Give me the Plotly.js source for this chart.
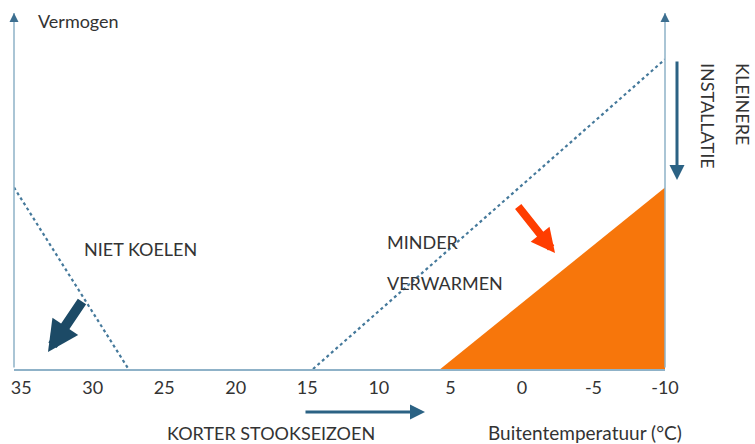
<!DOCTYPE html>
<html>
<head>
<meta charset="utf-8">
<script src="https://cdn.plot.ly/plotly-3.0.1.min.js"></script>
<style>html,body{margin:0;padding:0;background:#fff;}#chart{width:755px;height:444px;}</style>
</head>
<body>
<div id="chart"></div>
<script>
// Tick labels (outdoor temperature, °C)
const tickValues = [35, 30, 25, 20, 15, 10, 5, 0, -5, -10];
// Cooling line "NIET KOELEN"
const coolX = [35.5, 27.5];
const coolY = [51, 0];
// Heating line "MINDER VERWARMEN"
const heatX = [14.6, -10];
const heatY = [0, 87];
// Orange area (smaller installation)
const areaX = [5.7, -10, -10, 5.7];
const areaY = [0, 51, 0, 0];

const L = 14, R = 665, T = 13, B = 369;
const W = R - L, H = B - T;
const px = x => (x - L) / W;
const py = y => (B - y) / H;

const font = 'Lato, "Open Sans", sans-serif';

function arrow(tipX, tipY, tailX, tailY, color, width, size, head) {
  return {xref: 'paper', yref: 'paper', x: px(tipX), y: py(tipY),
    ax: tailX - tipX, ay: tailY - tipY, text: '', showarrow: true,
    arrowhead: head === undefined ? 2 : head, arrowsize: size, arrowwidth: width, arrowcolor: color};
}
function label(text, x, y, size, opts) {
  return Object.assign({xref: 'paper', yref: 'paper', x: px(x), y: py(y), text: text,
    showarrow: false, xanchor: 'center', yanchor: 'middle',
    font: {family: font, size: size, color: '#333'}}, opts || {});
}

const traces = [
  {x: areaX, y: areaY, mode: 'lines', fill: 'toself', fillcolor: '#f7760b',
   line: {width: 0, color: '#f7760b'}, hoverinfo: 'skip'},
  {x: coolX, y: coolY, mode: 'lines', line: {color: '#45799b', width: 2.2, dash: 'dot'}, hoverinfo: 'skip'},
  {x: heatX, y: heatY, mode: 'lines', line: {color: '#45799b', width: 2.2, dash: 'dot'}, hoverinfo: 'skip'}
];

const layout = {
  width: 755, height: 444,
  margin: {l: L, r: 755 - R, t: T, b: 444 - B},
  paper_bgcolor: '#fff', plot_bgcolor: '#fff',
  showlegend: false,
  xaxis: {range: [35.5, -10], autorange: false, tickvals: tickValues,
    ticktext: tickValues.map(String), showgrid: false, zeroline: false,
    showline: true, linecolor: '#8fb2c8', linewidth: 1.5, ticks: '',
    tickfont: {family: font, size: 18, color: '#333'}, ticklabelstandoff: 2},
  yaxis: {range: [0, 100], autorange: false, showgrid: false, zeroline: false,
    showticklabels: false, showline: false, ticks: ''},
  annotations: [
    arrow(L, T, L, B, '#8fb2c8', 1.5, 1, 0),
    arrow(R, T, R, B, '#8fb2c8', 1.5, 1, 0),
    arrow(L, T, L, T + 8, '#3d6f90', 1.5, 1.2, 2),
    arrow(R, T, R, T + 8, '#3d6f90', 1.5, 1.2, 2),
    arrow(425, 412, 304, 412, '#2b6284', 3, 1, 2),
    arrow(677, 180, 677, 60, '#2b6284', 3, 1, 2),
    arrow(555, 253, 517, 205, '#ff3d00', 8, 0.6, 2),
    arrow(48, 352, 83, 300, '#1c4a66', 10, 0.62, 2),
    label('Vermogen', 36, 21, 18, {xanchor: 'left'}),
    label('NIET KOELEN', 140, 249, 18),
    label('MINDER', 385, 242, 18, {xanchor: 'left'}),
    label('VERWARMEN', 385, 283, 18, {xanchor: 'left'}),
    label('KORTER STOOKSEIZOEN', 271, 433, 18),
    label('Buitentemperatuur (°C)', 585, 432, 19),
    label('KLEINERE', 743, 104, 18, {textangle: 90}),
    label('INSTALLATIE', 708, 116, 18, {textangle: 90})
  ]
};

Plotly.newPlot('chart', traces, layout, {staticPlot: true, displayModeBar: false});
</script>
</body>
</html>
